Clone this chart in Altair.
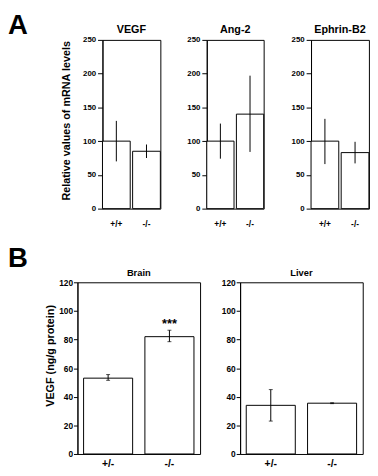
import altair as alt
import pandas as pd

FONT = "Liberation Sans"

# ---- Panel A: relative mRNA levels ----
genes = ["VEGF", "Ang-2", "Ephrin-B2"]
geno_a = ["+/+", "-/-"]
mrna_mean = {"VEGF": [100, 85], "Ang-2": [100, 140], "Ephrin-B2": [100, 83]}
mrna_low = {"VEGF": [70, 75], "Ang-2": [74, 84], "Ephrin-B2": [66, 67]}
mrna_high = {"VEGF": [130, 95], "Ang-2": [126, 197], "Ephrin-B2": [133, 99]}
mrna_ticks = [0, 50, 100, 150, 200, 250]

# ---- Panel B: VEGF protein ----
tissues = ["Brain", "Liver"]
geno_b = ["+/-", "-/-"]
prot_mean = {"Brain": [53, 82], "Liver": [34, 35.5]}
prot_low = {"Brain": [51.5, 78.5], "Liver": [23, 35.2]}
prot_high = {"Brain": [55.5, 86.5], "Liver": [45, 35.8]}
prot_sig = {"Brain": ["", "***"], "Liver": ["", ""]}
prot_ticks = [0, 20, 40, 60, 80, 100, 120]


def panel_a(gene, first, width):
    df = pd.DataFrame({"genotype": geno_a, "mean": mrna_mean[gene],
                       "low": mrna_low[gene], "high": mrna_high[gene]})
    x = alt.X("genotype:N", sort=geno_a, title=None,
              scale=alt.Scale(paddingInner=0.08, paddingOuter=0),
              axis=alt.Axis(labelAngle=0, domain=False, ticks=False, labelPadding=11.5,
                            labelFontSize=8.5, labelFontWeight="bold", labelColor="black"))
    ax = dict(values=mrna_ticks, tickSize=5, labelPadding=2, labelFontSize=8,
              labelFontWeight="bold", labelColor="black", tickColor="black",
              domainColor="black", grid=False, labelFlush=False, labelOverlap=False)
    if first:
        ax.update(titleFontSize=11, titleFontWeight="bold", titleColor="black",
                  titlePadding=11, titleY=82)
    title = "Relative values of mRNA levels" if first else None
    sc = alt.Scale(domain=[0, 250], nice=False)
    axis = alt.Axis(**ax)

    bars = alt.Chart(df).mark_bar(fill="white", stroke="black", strokeWidth=1).encode(
        x=x, y=alt.Y("mean:Q", scale=sc, axis=axis, title=title))
    err = alt.Chart(df).mark_rule(color="black", strokeWidth=1).encode(
        x=x, y=alt.Y("low:Q", scale=sc, axis=axis, title=title), y2="high:Q")
    return (bars + err).properties(
        width=width, height=172,
        title=alt.TitleParams(gene, fontSize=11, fontWeight="bold", color="black",
                              font=FONT, offset=0.7))


def panel_b(tissue, first):
    df = pd.DataFrame({"genotype": geno_b, "mean": prot_mean[tissue],
                       "low": prot_low[tissue], "high": prot_high[tissue],
                       "sig": prot_sig[tissue]})
    x = alt.X("genotype:N", sort=geno_b, title=None,
              scale=alt.Scale(paddingInner=0.2, paddingOuter=0.1),
              axis=alt.Axis(labelAngle=0, domain=False, ticks=False, labelPadding=4.5,
                            labelFontSize=10.5, labelFontWeight="bold", labelColor="black"))
    ax = dict(values=prot_ticks, tickSize=4, labelPadding=1, labelFontSize=8.5,
              labelFontWeight="bold", labelColor="black", tickColor="black",
              domainColor="black", grid=False, labelFlush=False, labelOverlap=False)
    if first:
        ax.update(titleFontSize=11, titleFontWeight="bold", titleColor="black",
                  titlePadding=3, titleY=74.5)
    title = "VEGF (ng/g protein)" if first else None
    sc = alt.Scale(domain=[0, 120], nice=False)
    axis = alt.Axis(**ax)

    def yq(field):
        return alt.Y(field, scale=sc, axis=axis, title=title)

    bars = alt.Chart(df).mark_bar(fill="white", stroke="black", strokeWidth=1).encode(
        x=x, y=yq("mean:Q"))
    err = alt.Chart(df).mark_rule(color="black", strokeWidth=1).encode(
        x=x, y=yq("low:Q"), y2="high:Q")
    cap_lo = alt.Chart(df).mark_tick(color="black", thickness=1, size=4).encode(
        x=x, y=yq("low:Q"))
    cap_hi = alt.Chart(df).mark_tick(color="black", thickness=1, size=4).encode(
        x=x, y=yq("high:Q"))
    stars = alt.Chart(df).mark_text(fontSize=13, fontWeight="bold", baseline="alphabetic",
                                    dy=-2.5, color="black").encode(
        x=x, y=yq("high:Q"), text="sig:N")
    return (bars + err + cap_lo + cap_hi + stars).properties(
        width=125, height=175,
        title=alt.TitleParams(tissue, fontSize=9.5, fontWeight="bold", color="black",
                              font=FONT, offset=0.5))


def spacer(w):
    return alt.Chart(pd.DataFrame({"t": [""]})).mark_text().encode(
        text="t:N", x=alt.value(0), y=alt.value(0)
    ).properties(width=w, height=10,
                 view=alt.ViewBackground(stroke="transparent", strokeWidth=0))


row_a = alt.hconcat(
    spacer(11.4),
    panel_a("VEGF", True, 59),
    panel_a("Ang-2", False, 58),
    panel_a("Ephrin-B2", False, 59),
    spacing=25.3,
    title=alt.TitleParams("A", anchor="start", fontSize=28, fontWeight="bold",
                          font=FONT, color="black", dx=-16, dy=16.4, offset=0),
)

row_b = alt.hconcat(
    spacer(1),
    panel_b("Brain", True),
    panel_b("Liver", False),
    spacing=19.8,
    title=alt.TitleParams("B", anchor="start", fontSize=28, fontWeight="bold",
                          font=FONT, color="black", dx=-16, dy=4.5, offset=0),
)

chart = alt.vconcat(row_a, row_b, spacing=16.1).properties(
    padding=0
).configure(font=FONT).configure_view(stroke="black", strokeWidth=1)

chart.save("out.html", embed_options={"renderer": "svg", "actions": False})
